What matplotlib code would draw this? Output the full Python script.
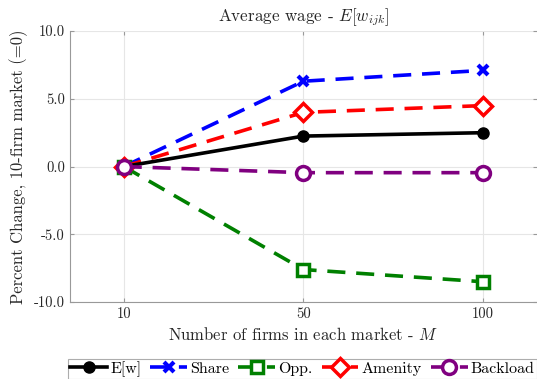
import matplotlib
matplotlib.use("Agg")
import matplotlib.pyplot as plt

plt.rcParams['font.family'] = 'serif'
plt.rcParams['font.serif'] = ['cmr10']
plt.rcParams['mathtext.fontset'] = 'cm'
plt.rcParams['axes.formatter.use_mathtext'] = True

# data
markets = ['10', '50', '100']
ew = [0.0, 2.25, 2.5]
share = [0.0, 6.3, 7.1]
opp = [0.0, -7.6, -8.5]
amenity = [0.0, 4.0, 4.5]
backload = [0.0, -0.45, -0.45]
yticks = [-10, -5, 0, 5, 10]
ytick_labels = ['-10.0', '-5.0', '0.0', '5.0', '10.0']

fig = plt.figure(figsize=(5.37, 3.79), dpi=100)
ax = fig.add_axes([0.13, 0.203, 0.87, 0.715])

x = range(1, len(markets) + 1)
lw = 2.6
ax.plot(x, ew, color='black', lw=lw, marker='o', ms=8, label='E[w]', zorder=5)
ax.plot(x, share, color='blue', lw=lw, ls=(0, (5, 3)), marker='x', ms=7, mew=3, label='Share')
ax.plot(x, opp, color='green', lw=lw, ls=(0, (5, 3)), marker='s', ms=8, mew=2.5,
        mfc='white', label='Opp.')
ax.plot(x, amenity, color='red', lw=lw, ls=(0, (5, 3)), marker='D', ms=9, mew=2.5,
        mfc='white', label='Amenity')
ax.plot(x, backload, color='purple', lw=lw, ls=(0, (5, 3)), marker='o', ms=10, mew=2.5,
        mfc='white', label='Backload', zorder=6)

ax.set_xlim(0.7, 3.3)
ax.set_ylim(-10, 10)
ax.set_xticks(list(x))
ax.set_xticklabels(markets)
ax.set_yticks(yticks)
ax.set_yticklabels(ytick_labels)
ax.grid(True, color='#e6e6e6', lw=0.8)
ax.set_axisbelow(True)
ax.tick_params(direction='in', length=3, colors='#999999', labelcolor='#262626',
               labelsize=10.5, right=True, top=True)
for side in ['top', 'right']:
    ax.spines[side].set_visible(False)
for side in ['left', 'bottom']:
    ax.spines[side].set_color('#999999')

ax.set_title(r'Average wage - $E[w_{ijk}]$', fontsize=12.3, color='#262626', pad=7)
ax.set_xlabel(r'Number of firms in each market - $M$', fontsize=12, color='#262626')
ax.set_ylabel('Percent Change, 10-firm market (=0)', fontsize=12, color='#262626')

handles, labels = ax.get_legend_handles_labels()
leg = fig.legend(handles, labels, loc='lower left', mode='expand', ncol=5, fontsize=11.5,
                 bbox_to_anchor=(68 / 537, 0.0, 469 / 537, 25 / 379),
                 frameon=True, fancybox=False, edgecolor='#999999', handlelength=2.3,
                 handletextpad=0.2, columnspacing=0.6, borderpad=0.15, borderaxespad=0.0)
leg.get_frame().set_linewidth(0.8)

fig.savefig('out.png', dpi=100)
